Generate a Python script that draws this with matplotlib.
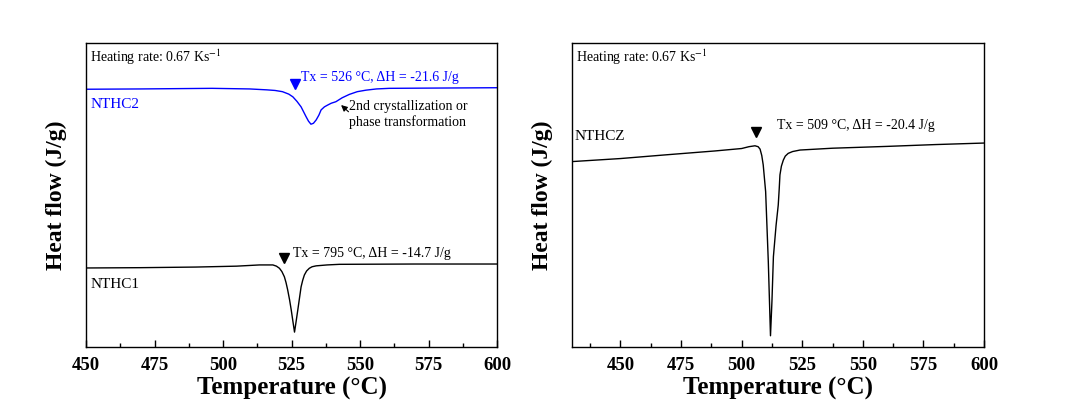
import matplotlib
matplotlib.use('Agg')
import matplotlib.pyplot as plt
from matplotlib.ticker import MultipleLocator, NullLocator

plt.rcParams['font.family'] = 'Liberation Serif'
plt.rcParams['mathtext.fontset'] = 'stix'

# DSC traces (arbitrary heat-flow units)
temp_nthc2 = [450, 470, 496, 509.7, 516, 519, 521.7, 524, 525.5, 527, 528.5,
              529.4, 530.3, 531.2, 532.1, 533.0, 534.0, 535.0, 535.8, 537.0,
              538.2, 539.5, 541.2, 543.5, 546.1, 549, 552.2, 556, 560.7, 580, 600]
flow_nthc2 = [84.8, 84.9, 85.1, 84.9, 84.6, 84.4, 84.0, 83.2, 82.3, 80.8, 79.0,
              77.4, 75.8, 74.3, 73.3, 73.6, 74.7, 76.3, 78.0, 79.0,
              79.6, 80.2, 80.7, 82.0, 83.1, 84.0, 84.5, 84.9, 85.1, 85.2, 85.3]

temp_nthc1 = [450, 470, 490, 505, 513.3, 518.2, 519.5, 520.6, 521.5, 522.4,
              523.0, 523.6, 524.3, 524.9, 525.5, 526.1, 526.7, 527.3, 527.9,
              528.5, 529.1, 529.7, 530.5, 531.5, 532.5, 534.0, 538, 542.5, 570, 600]
flow_nthc1 = [26.0, 26.1, 26.3, 26.6, 27.0, 27.0, 26.6, 25.9, 24.8, 23.1,
              21.2, 18.8, 15.5, 12.2, 8.5, 4.9, 8.5, 12.2, 16.0,
              19.8, 22.0, 23.7, 25.0, 25.9, 26.4, 26.7, 27.0, 27.2, 27.3, 27.3]

temp_nthcz = [430, 450, 468.4, 489, 500, 503, 505.5, 506.8, 507.6, 508.3,
              508.9, 509.9, 511.0, 511.9, 512.5, 513.1, 514.2, 515.1, 515.5,
              515.8, 516.4, 517.2, 518.0, 519.2, 521.0, 524.1, 537.5, 560,
              580, 600]
flow_nthcz = [61.0, 62.0, 63.2, 64.5, 65.3, 65.9, 66.2, 65.9, 65.1, 63.0,
              59.9, 51.1, 28.0, 3.7, 15.0, 29.7, 40.0, 46.7, 52.0,
              56.6, 59.5, 61.5, 62.8, 63.7, 64.3, 64.8, 65.4, 66.0,
              66.6, 67.1]

xticks_major = [450, 475, 500, 525, 550, 575, 600]


def style_axes(ax, xmin):
    ax.set_xlim(xmin, 600)
    ax.set_ylim(0, 100)
    ax.set_xticks(xticks_major)
    ax.xaxis.set_minor_locator(MultipleLocator(12.5))
    ax.yaxis.set_major_locator(NullLocator())
    ax.tick_params(axis='x', which='major', direction='in', length=5, width=1,
                   pad=7, labelsize=13.5)
    ax.tick_params(axis='x', which='minor', direction='in', length=3, width=1)
    for lab in ax.get_xticklabels():
        lab.set_fontweight('bold')
    for sp in ax.spines.values():
        sp.set_linewidth(1)
    ax.set_xlabel('Temperature (°C)', fontsize=18, fontweight='bold', labelpad=2)
    ax.set_ylabel('Heat flow (J/g)', fontsize=17, fontweight='bold', labelpad=14)
    ax.text(0.01, 0.985, 'Heating rate: 0.67 Ks$^{-1}$', transform=ax.transAxes,
            ha='left', va='top', fontsize=10)


fig = plt.figure(figsize=(10.67, 4.08), dpi=100)
ax1 = fig.add_axes([0.0806, 0.1495, 0.3852, 0.745])
ax2 = fig.add_axes([0.5361, 0.1495, 0.3861, 0.745])

# left panel
ax1.plot(temp_nthc2, flow_nthc2, color='blue', lw=1)
ax1.plot(temp_nthc1, flow_nthc1, color='black', lw=1)
ax1.text(451.5, 79.9, 'NTHC2', color='blue', fontsize=11, va='center')
ax1.plot(526.4, 86.5, marker='v', color='blue', ms=7)
ax1.text(528.6, 88.5, 'Tx = 526 °C, ΔH = -21.6 J/g', color='blue',
         fontsize=10, va='center')
ax1.text(546.1, 76.5, '2nd crystallization or\nphase transformation',
         fontsize=10, va='center', linespacing=1.2)
ax1.annotate('', xy=(543.1, 79.6), xytext=(545.8, 77.4),
             arrowprops=dict(arrowstyle='-|>', color='black', lw=0.8,
                             mutation_scale=9, shrinkA=0, shrinkB=0))
ax1.text(451.5, 20.4, 'NTHC1', color='black', fontsize=11, va='center')
ax1.plot(522.4, 29.3, marker='v', color='black', ms=7)
ax1.text(525.4, 30.9, 'Tx = 795 °C, ΔH = -14.7 J/g', fontsize=10, va='center')
style_axes(ax1, 450)

# right panel
ax2.plot(temp_nthcz, flow_nthcz, color='black', lw=1)
ax2.text(431.2, 69.1, 'NTHCZ', fontsize=11, va='center')
ax2.plot(505.9, 70.7, marker='v', color='black', ms=7)
ax2.text(514.6, 73.0, 'Tx = 509 °C, ΔH = -20.4 J/g', fontsize=10, va='center')
style_axes(ax2, 430)

fig.savefig('out.png', dpi=100)
